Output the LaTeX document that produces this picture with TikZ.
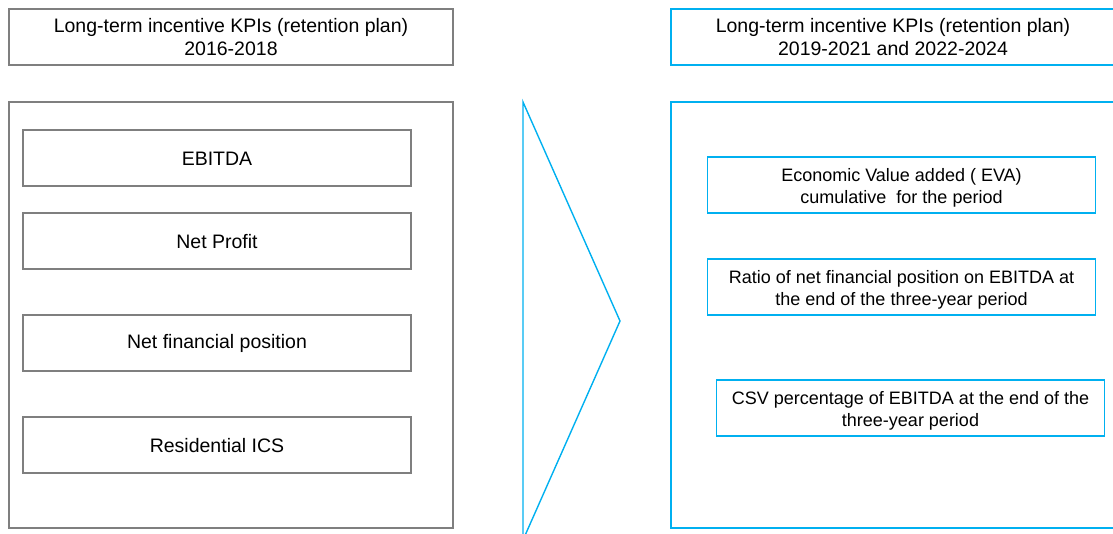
\documentclass[tikz,border=0pt]{standalone}
\usepackage{fontspec}
\setmainfont{Liberation Sans}
\definecolor{framegray}{HTML}{7F7F7F}
\definecolor{skyblue}{HTML}{00B0F0}
\begin{document}
\begin{tikzpicture}[x=1pt,y=-1pt,
  every node/.style={font=\fontsize{19.5}{22.5}\selectfont, align=center, inner sep=0pt, text=black},
  graybox/.style={draw=framegray, line width=1.2pt, rectangle},
  bluebox/.style={draw=skyblue, line width=1.4pt, rectangle},
  kpi/.style={minimum width=388pt, minimum height=56pt},
  smalltext/.style={font=\fontsize{18}{22}\selectfont, yshift=-2.5pt}]
\useasboundingbox (0,0) rectangle (1113,533);

% left column: 2016-2018 plan
\node[graybox, minimum width=444pt, minimum height=56pt] (lhead) at (231,37)
  {Long-term incentive KPIs (retention plan)\\2016-2018};
\node[graybox, minimum width=444pt, minimum height=426pt] (lframe) at (231,315) {};
\node[graybox, kpi] (ebitda) at (217,158) {};
\node[yshift=-0.7pt] (ebitdatext) at (ebitda.center) {EBITDA};
\node[graybox, kpi] (profit) at (217,241) {};
\node[yshift=-0.7pt] (profittext) at (profit.center) {Net Profit};
\node[graybox, kpi] (nfp) at (217,343) {};
\node[yshift=-0.7pt] (nfptext) at (nfp.center) {Net financial position};
\node[graybox, kpi] (ics) at (217,445) {};
\node[yshift=-0.7pt] (icstext) at (ics.center) {Residential ICS};

% chevron between the columns
\draw[skyblue, line width=1.4pt, line join=miter] (523,102) -- (620,321) -- (523,540) -- cycle;

% right column: 2019-2021 and 2022-2024 plans
\node[bluebox, minimum width=460pt, minimum height=56pt] (rhead) at (901,37) {};
\node (rheadtext) at (893,37) {Long-term incentive KPIs (retention plan)\\2019-2021 and 2022-2024};
\node[bluebox, minimum width=460pt, minimum height=426pt] (rframe) at (901,315) {};
\node[bluebox, kpi] (eva) at (901.5,185) {};
\node[smalltext] (evatext) at (eva.center) {Economic Value added ( EVA)\\cumulative\ \ for the period};
\node[bluebox, kpi] (ratio) at (901.5,287) {};
\node[smalltext] (ratiotext) at (ratio.center) {Ratio of net financial position on EBITDA at\\the end of the three-year period};
\node[bluebox, kpi] (csv) at (910.5,408) {};
\node[smalltext] (csvtext) at (csv.center) {CSV percentage of EBITDA at the end of the\\three-year period};
\end{tikzpicture}
\end{document}
